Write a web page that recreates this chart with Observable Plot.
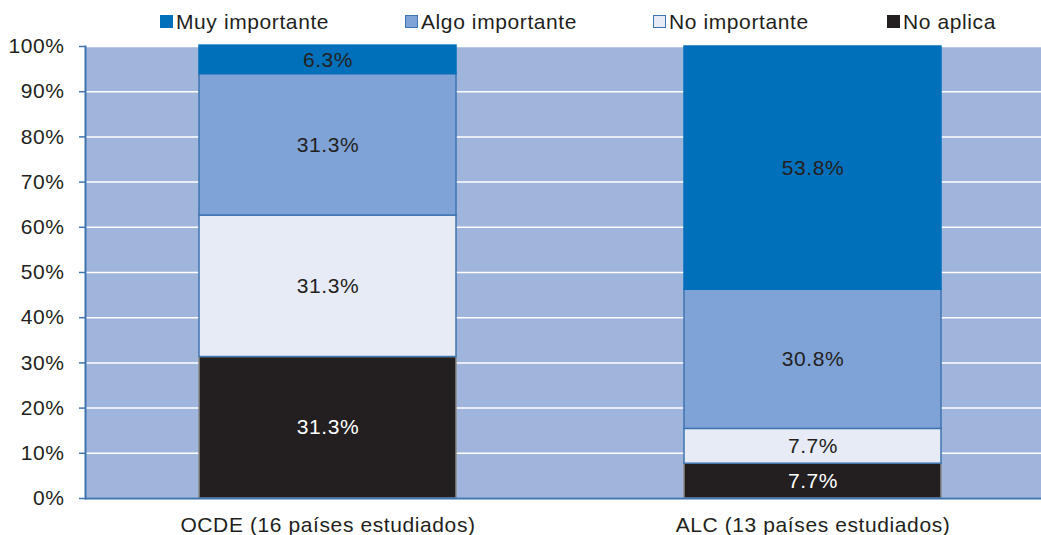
<!DOCTYPE html>
<html><head><meta charset="utf-8">
<script src="https://cdn.jsdelivr.net/npm/d3@7"></script>
<script src="https://cdn.jsdelivr.net/npm/@observablehq/plot@0.6"></script>
<style>
body{margin:0;background:#fff;font-family:"Liberation Sans",Arial,sans-serif;}
#legend{position:relative;height:32px;width:1041px;font-size:21px;letter-spacing:0.6px;color:#231F20;}
.item{position:absolute;top:11px;display:flex;align-items:center;white-space:nowrap;line-height:21px;}
.sw{width:13px;height:13px;margin-right:3px;box-sizing:border-box;}
</style></head><body>
<div id="legend"></div>
<div id="chart"></div>
<script>
const categories = ["OCDE (16 países estudiados)", "ALC (13 países estudiados)"];
const series = ["No aplica", "No importante", "Algo importante", "Muy importante"];
const noAplica = [31.3, 7.7];
const noImportante = [31.3, 7.7];
const algoImportante = [31.3, 30.8];
const muyImportante = [6.3, 53.8];
const legendOrder = ["Muy importante", "Algo importante", "No importante", "No aplica"];
const yTicks = [0,10,20,30,40,50,60,70,80,90,100];

const colors = {"Muy importante":"#0070BA","Algo importante":"#7FA3D6","No importante":"#E6EBF6","No aplica":"#231F20"};
const strokes = {"Muy importante":"#0070BA","Algo importante":"#3F74B0","No importante":"#3F74B0","No aplica":"#8A8A8A"};

const valuesBySeries = {"No aplica":noAplica,"No importante":noImportante,"Algo importante":algoImportante,"Muy importante":muyImportante};
const data = [];
series.forEach(s => categories.forEach((c,i) => data.push({cat:c, s, v: valuesBySeries[s][i]})));

// legend
const legendX = [160, 405, 653, 887];
const lg = document.getElementById("legend");
legendOrder.forEach((s,i) => {
  const d = document.createElement("div");
  d.className = "item"; d.style.left = legendX[i] + "px";
  const sw = document.createElement("div"); sw.className = "sw";
  sw.style.background = colors[s];
  sw.style.border = "1.5px solid " + (s === "No aplica" ? "#231F20" : (s==="Muy importante" ? "#0070BA" : "#3F74B0"));
  d.appendChild(sw);
  const t = document.createElement("span"); t.textContent = s; d.appendChild(t);
  lg.appendChild(d);
});

const chart = Plot.plot({
  width: 1041,
  height: 503,
  marginTop: 14,
  marginBottom: 37,
  marginLeft: 85,
  marginRight: 0,
  style: {fontFamily: "Liberation Sans, Arial, sans-serif", fontSize: "21px", letterSpacing: "0.6px", color: "#231F20", background: "white", overflow: "visible"},
  x: {domain: categories, range: [85, 1055], paddingInner: 0.47, paddingOuter: 0.235, label: null},
  y: {domain: [0, 100], label: null},
  color: {domain: series, range: series.map(s => colors[s])},
  marks: [
    Plot.frame({fill: "#9FB5DC", stroke: null}),
    Plot.gridY(yTicks, {stroke: "white", strokeOpacity: 1, strokeWidth: 1.5}),
    Plot.barY(data, Plot.stackY({x: "cat", y: "v", fill: "s", order: series, stroke: d => strokes[d.s], strokeWidth: 1.5, inset: 0})),
    Plot.text(data, Plot.stackY({x: "cat", y: "v", order: series, text: d => d.v.toFixed(1) + "%", fill: d => d.s === "No aplica" ? "white" : "#231F20", fontSize: 21})),
    Plot.axisY(yTicks, {tickFormat: d => d + "%", tickSize: 6, stroke: "#3F74B0", strokeWidth: 1.5, fill: "#231F20", fontSize: 21, tickPadding: 15}),
    Plot.axisX({tickSize: 0, tickPadding: 19, fontSize: 21, fill: "#231F20"}),
    Plot.ruleY([0], {stroke: "#3F74B0", strokeWidth: 2}),
    Plot.frame({anchor: "left", stroke: "#3F74B0", strokeWidth: 2})
  ]
});
document.getElementById("chart").appendChild(chart);
</script>
</body></html>
